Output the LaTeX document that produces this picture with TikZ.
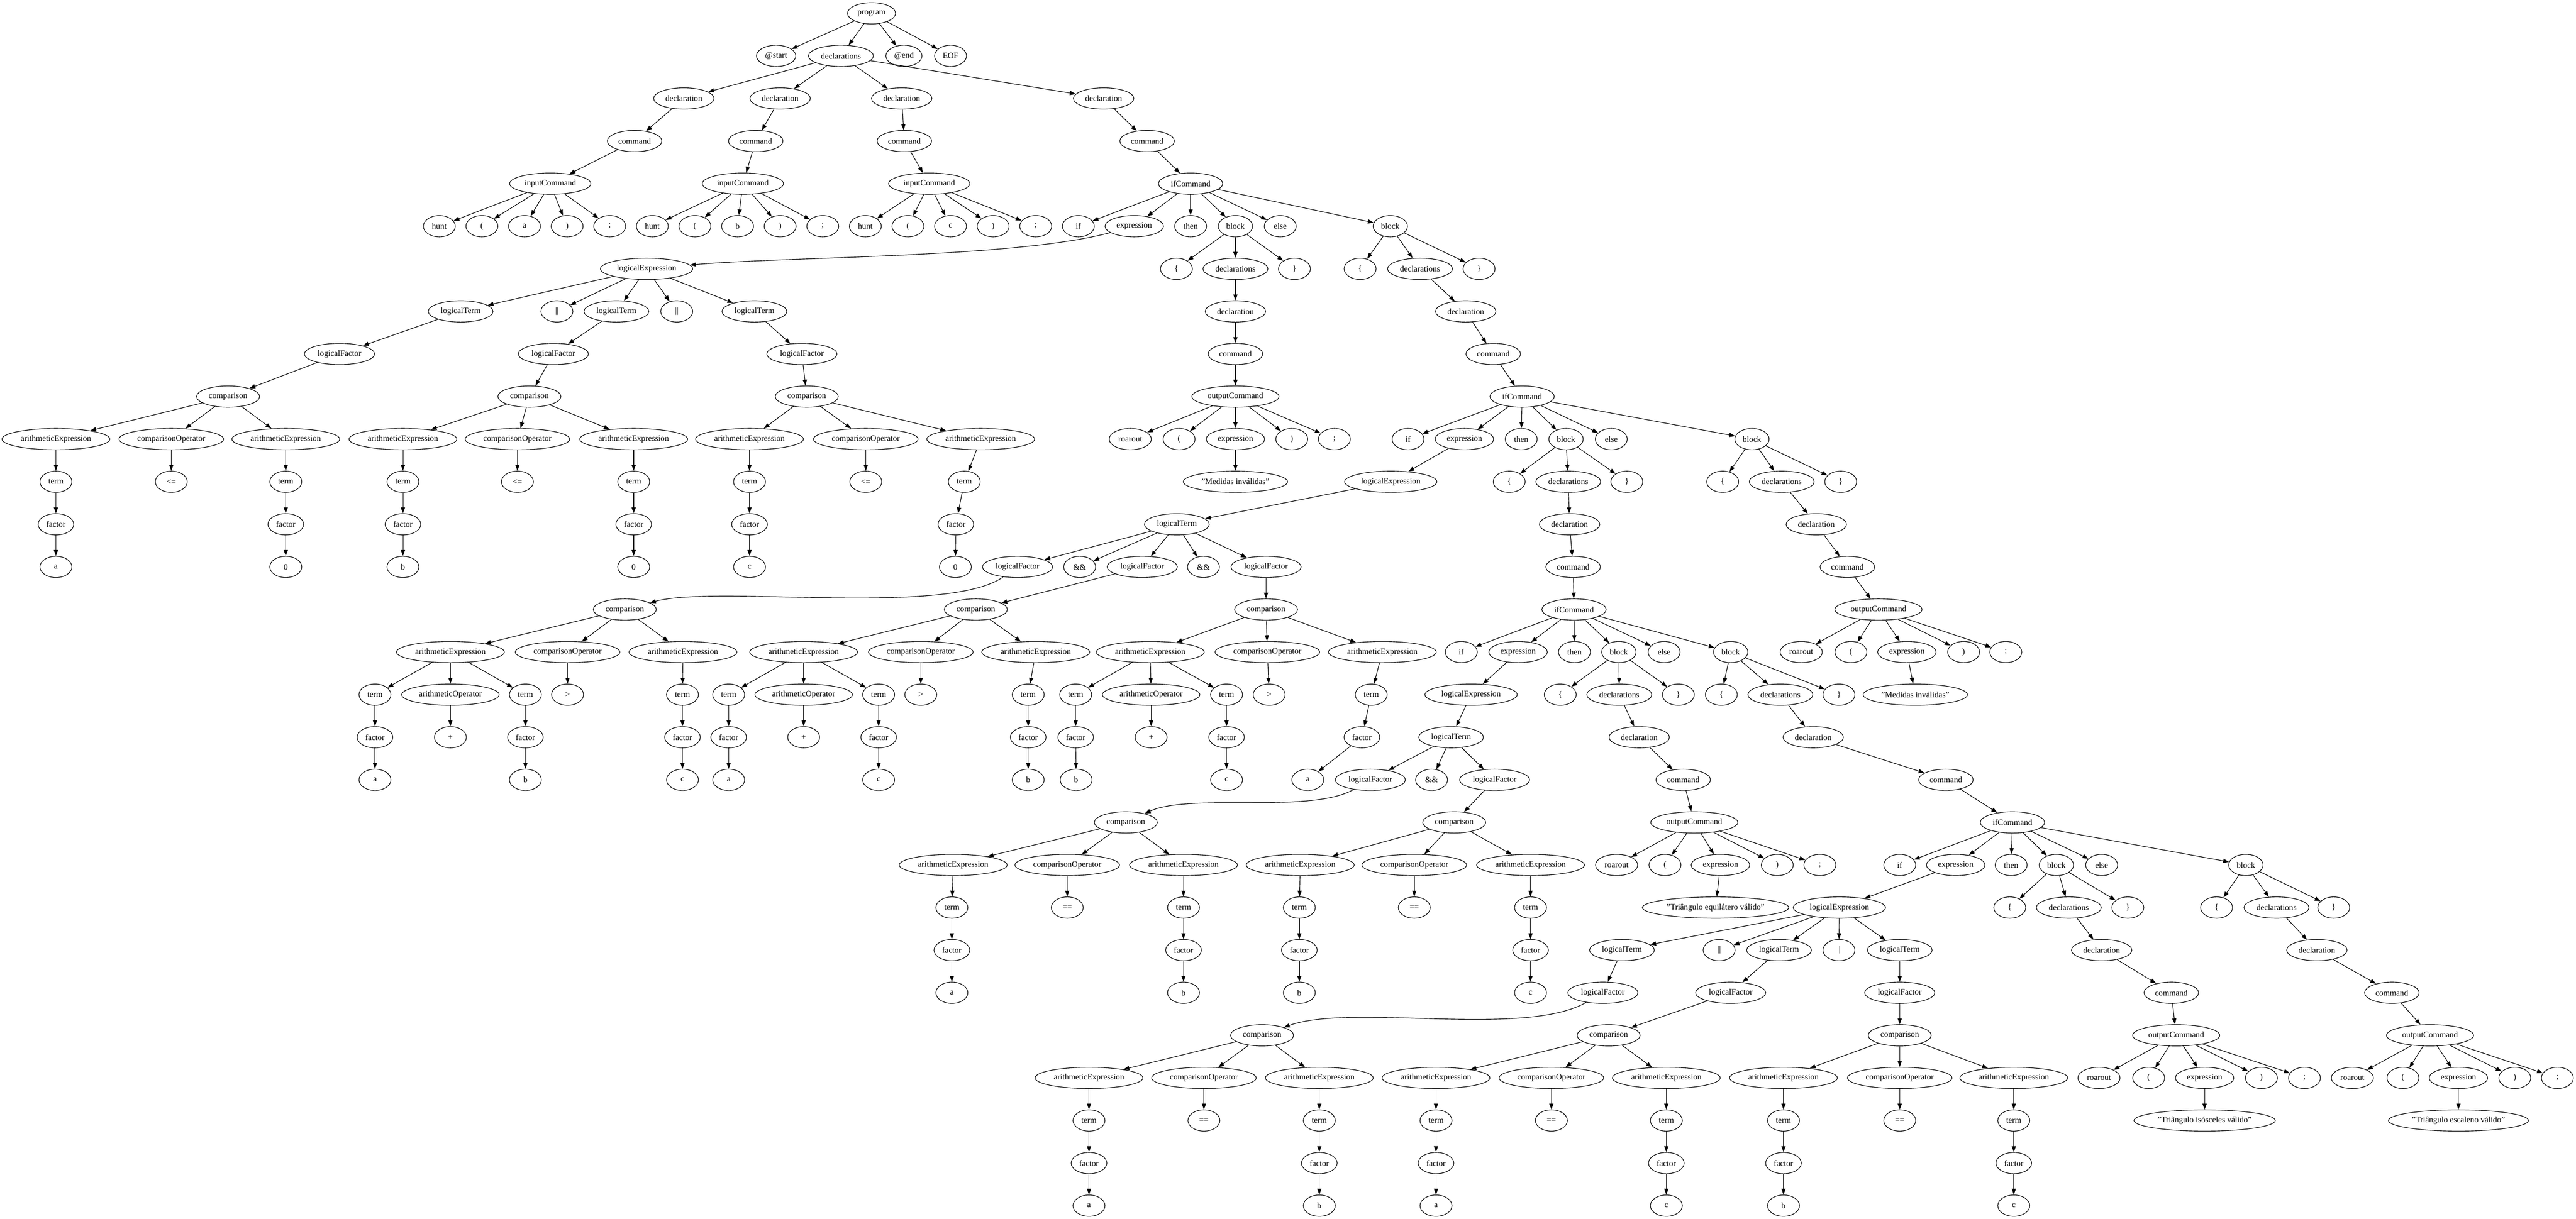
\documentclass[tikz,border=0pt]{standalone}
\usepackage{fontspec}
\setmainfont{Liberation Serif}
\usetikzlibrary{shapes.geometric,arrows.meta}

\begin{document}
\begin{tikzpicture}
  [x=0.75pt,y=-72pt,
   every node/.style={ellipse,draw,line width=1pt,inner xsep=5pt,inner ysep=4pt,
     minimum width=54pt,minimum height=36pt,font=\fontsize{14pt}{16.8pt}\selectfont},
   conn/.style={-{Triangle[length=10pt,width=7pt]},line width=1pt}]
  \useasboundingbox (0,-0.3125) rectangle (5805,28.302);

  % program and its declarations
  \node (prog)    at (1964,0) {program};
  \node (atstart) at (1749,1) {@start};
  \node (decls)   at (1895,1) {declarations};
  \node (atend)   at (2037,1) {@end};
  \node (eof)     at (2142,1) {EOF};
  \node (d1) at (1541,2) {declaration};
  \node (d2) at (1758,2) {declaration};
  \node (d3) at (2032,2) {declaration};
  \node (d4) at (2487,2) {declaration};
  \node (c1) at (1430,3) {command};
  \node (c2) at (1703,3) {command};
  \node (c3) at (2038,3) {command};
  \node (c4) at (2585,3) {command};
  \node (in1) at (1240,4) {inputCommand};
  \node (in2) at (1674,4) {inputCommand};
  \node (in3) at (2094,4) {inputCommand};
  \node (if1) at (2683,4) {ifCommand};

  \node (i1k) at (990,5)  {hunt};
  \node (i1l) at (1086,5) {(};
  \node (i1v) at (1182,5) {a};
  \node (i1r) at (1278,5) {)};
  \node (i1s) at (1374,5) {;};
  \node (i2k) at (1470,5) {hunt};
  \node (i2l) at (1566,5) {(};
  \node (i2v) at (1662,5) {b};
  \node (i2r) at (1758,5) {)};
  \node (i2s) at (1854,5) {;};
  \node (i3k) at (1950,5) {hunt};
  \node (i3l) at (2046,5) {(};
  \node (i3v) at (2142,5) {c};
  \node (i3r) at (2238,5) {)};
  \node (i3s) at (2334,5) {;};
  \node (kif1) at (2430,5) {if};
  \node (ex1)  at (2556,5) {expression};
  \node (kth1) at (2683,5) {then};
  \node (bl1)  at (2784,5) {block};
  \node (kel1) at (2885,5) {else};
  \node (bl2)  at (3133,5) {block};

  % first condition
  \node (le1) at (1457,6) {logicalExpression};
  \node (b1l) at (2651,6) {\{};
  \node (ds1) at (2784,6) {declarations};
  \node (b1r) at (2917,6) {\}};
  \node (b2l) at (3065,6) {\{};
  \node (ds2) at (3200,6) {declarations};
  \node (b2r) at (3333,6) {\}};
  \node (lt1) at (1038,7) {logicalTerm};
  \node (or1) at (1255,7) {||};
  \node (lt2) at (1389,7) {logicalTerm};
  \node (or2) at (1525,7) {||};
  \node (lt3) at (1700,7) {logicalTerm};
  \node (dc1) at (2784,7) {declaration};
  \node (dc2) at (3303,7) {declaration};
  \node (lf1) at (765,8)  {logicalFactor};
  \node (lf2) at (1247,8) {logicalFactor};
  \node (lf3) at (1807,8) {logicalFactor};
  \node (cm1) at (2784,8) {command};
  \node (cm2) at (3365,8) {command};
  \node (cp1) at (514,9)  {comparison};
  \node (cp2) at (1193,9) {comparison};
  \node (cp3) at (1818,9) {comparison};
  \node (oc1) at (2784,9) {outputCommand};
  \node (if2) at (3430,9) {ifCommand};

  \node (ae1) at (126,10)  {arithmeticExpression};
  \node (co1) at (386,10)  {comparisonOperator};
  \node (ae2) at (644,10)  {arithmeticExpression};
  \node (ae3) at (908,10)  {arithmeticExpression};
  \node (co2) at (1166,10) {comparisonOperator};
  \node (ae4) at (1428,10) {arithmeticExpression};
  \node (ae5) at (1689,10) {arithmeticExpression};
  \node (co3) at (1951,10) {comparisonOperator};
  \node (ae6) at (2210,10) {arithmeticExpression};
  \node (o1k) at (2547,10) {roarout};
  \node (o1l) at (2657,10) {(};
  \node (o1e) at (2784,10) {expression};
  \node (o1r) at (2911,10) {)};
  \node (o1s) at (3007,10) {;};
  \node (kif2) at (3173,10) {if};
  \node (ex2)  at (3300,10) {expression};
  \node (kth2) at (3428,10) {then};
  \node (bl3)  at (3529,10) {block};
  \node (kel2) at (3631,10) {else};
  \node (bl4)  at (3948,10) {block};

  \node (tm1) at (126,11)  {term};
  \node (op1) at (386,11)  {<=};
  \node (tm2) at (644,11)  {term};
  \node (tm3) at (908,11)  {term};
  \node (op2) at (1166,11) {<=};
  \node (tm4) at (1428,11) {term};
  \node (tm5) at (1689,11) {term};
  \node (op3) at (1951,11) {<=};
  \node (tm6) at (2173,11) {term};
  \node (s1)  at (2784,11) {"Medidas inválidas"};
  \node (le2) at (3134,11) {logicalExpression};
  \node (b3l) at (3401,11) {\{};
  \node (ds3) at (3534,11) {declarations};
  \node (b3r) at (3666,11) {\}};
  \node (b4l) at (3882,11) {\{};
  \node (ds4) at (4015,11) {declarations};
  \node (b4r) at (4148,11) {\}};

  \node (fa1) at (126,12)  {factor};
  \node (fa2) at (644,12)  {factor};
  \node (fa3) at (908,12)  {factor};
  \node (fa4) at (1428,12) {factor};
  \node (fa5) at (1689,12) {factor};
  \node (fa6) at (2154,12) {factor};
  \node (lt4) at (2652,12) {logicalTerm};
  \node (dc3) at (3537,12) {declaration};
  \node (dc4) at (4093,12) {declaration};

  \node (va1) at (126,13)  {a};
  \node (va2) at (644,13)  {0};
  \node (va3) at (908,13)  {b};
  \node (va4) at (1428,13) {0};
  \node (va5) at (1689,13) {c};
  \node (va6) at (2153,13) {0};
  \node (lf4) at (2293,13) {logicalFactor};
  \node (an1) at (2433,13) {\&\&};
  \node (lf5) at (2574,13) {logicalFactor};
  \node (an2) at (2712,13) {\&\&};
  \node (lf6) at (2853,13) {logicalFactor};
  \node (cm3) at (3545,13) {command};
  \node (cm4) at (4163,13) {command};

  % triangle inequality
  \node (cp4) at (1408,14) {comparison};
  \node (cp5) at (2199,14) {comparison};
  \node (cp6) at (2853,14) {comparison};
  \node (if3) at (3547,14) {ifCommand};
  \node (oc2) at (4233,14) {outputCommand};

  \node (ae7)  at (1015,15) {arithmeticExpression};
  \node (co4)  at (1279,15) {comparisonOperator};
  \node (ae8)  at (1539,15) {arithmeticExpression};
  \node (ae9)  at (1811,15) {arithmeticExpression};
  \node (co5)  at (2075,15) {comparisonOperator};
  \node (ae10) at (2334,15) {arithmeticExpression};
  \node (ae11) at (2592,15) {arithmeticExpression};
  \node (co6)  at (2856,15) {comparisonOperator};
  \node (ae12) at (3115,15) {arithmeticExpression};
  \node (kif3) at (3293,15) {if};
  \node (ex3)  at (3421,15) {expression};
  \node (kth3) at (3548,15) {then};
  \node (bl5)  at (3648,15) {block};
  \node (kel3) at (3750,15) {else};
  \node (bl6)  at (3900,15) {block};
  \node (o2k) at (4059,15) {roarout};
  \node (o2l) at (4171,15) {(};
  \node (o2e) at (4297,15) {expression};
  \node (o2r) at (4425,15) {)};
  \node (o2s) at (4520,15) {;};

  \node (tm7)  at (845,16)  {term};
  \node (ao1)  at (1015,16) {arithmeticOperator};
  \node (tm8)  at (1184,16) {term};
  \node (op4)  at (1279,16) {>};
  \node (tm9)  at (1538,16) {term};
  \node (tm10) at (1642,16) {term};
  \node (ao2)  at (1811,16) {arithmeticOperator};
  \node (tm11) at (1980,16) {term};
  \node (op5)  at (2075,16) {>};
  \node (tm12) at (2317,16) {term};
  \node (tm13) at (2424,16) {term};
  \node (ao3)  at (2594,16) {arithmeticOperator};
  \node (tm14) at (2764,16) {term};
  \node (op6)  at (2860,16) {>};
  \node (tm15) at (3090,16) {term};
  \node (le3)  at (3315,16) {logicalExpression};
  \node (b5l)  at (3516,16) {\{};
  \node (ds5)  at (3649,16) {declarations};
  \node (b5r)  at (3782,16) {\}};
  \node (b6l)  at (3879,16) {\{};
  \node (ds6)  at (4012,16) {declarations};
  \node (b6r)  at (4144,16) {\}};
  \node (s2)   at (4316,16) {"Medidas inválidas"};

  \node (fa7)  at (845,17)  {factor};
  \node (pl1)  at (1015,17) {+};
  \node (fa8)  at (1184,17) {factor};
  \node (fa9)  at (1538,17) {factor};
  \node (fa10) at (1642,17) {factor};
  \node (pl2)  at (1811,17) {+};
  \node (fa11) at (1980,17) {factor};
  \node (fa12) at (2317,17) {factor};
  \node (fa13) at (2424,17) {factor};
  \node (pl3)  at (2594,17) {+};
  \node (fa14) at (2764,17) {factor};
  \node (fa15) at (3069,17) {factor};
  \node (lt5)  at (3270,17) {logicalTerm};
  \node (dc5)  at (3694,17) {declaration};
  \node (dc6)  at (4086,17) {declaration};

  \node (va7)  at (845,18)  {a};
  \node (va8)  at (1184,18) {b};
  \node (va9)  at (1538,18) {c};
  \node (va10) at (1642,18) {a};
  \node (va11) at (1980,18) {c};
  \node (va12) at (2317,18) {b};
  \node (va13) at (2425,18) {b};
  \node (va14) at (2764,18) {c};
  \node (va15) at (2947,18) {a};
  \node (lf7)  at (3088,18) {logicalFactor};
  \node (an3)  at (3226,18) {\&\&};
  \node (lf8)  at (3368,18) {logicalFactor};
  \node (cm5)  at (3793,18) {command};
  \node (cm6)  at (4385,18) {command};

  % equilateral test
  \node (cp7) at (2537,19) {comparison};
  \node (cp8) at (3277,19) {comparison};
  \node (oc3) at (3818,19) {outputCommand};
  \node (if4) at (4535,19) {ifCommand};

  \node (ae13) at (2148,20) {arithmeticExpression};
  \node (co7)  at (2405,20) {comparisonOperator};
  \node (ae14) at (2667,20) {arithmeticExpression};
  \node (ae15) at (2930,20) {arithmeticExpression};
  \node (co8)  at (3187,20) {comparisonOperator};
  \node (ae16) at (3449,20) {arithmeticExpression};
  \node (o3k) at (3643,20) {roarout};
  \node (o3l) at (3752,20) {(};
  \node (o3e) at (3877,20) {expression};
  \node (o3r) at (4005,20) {)};
  \node (o3s) at (4101,20) {;};
  \node (kif4) at (4281,20) {if};
  \node (ex4)  at (4407,20) {expression};
  \node (kth4) at (4532,20) {then};
  \node (bl7)  at (4634,20) {block};
  \node (kel4) at (4736,20) {else};
  \node (bl8)  at (5061,20) {block};

  \node (tm16) at (2145,21) {term};
  \node (op7)  at (2405,21) {==};
  \node (tm17) at (2667,21) {term};
  \node (tm18) at (2928,21) {term};
  \node (op8)  at (3187,21) {==};
  \node (tm19) at (3449,21) {term};
  \node (s3)   at (3866,21) {"Triângulo equilátero válido"};
  \node (le4)  at (4145,21) {logicalExpression};
  \node (b7l)  at (4529,21) {\{};
  \node (ds7)  at (4662,21) {declarations};
  \node (b7r)  at (4795,21) {\}};
  \node (b8l)  at (4995,21) {\{};
  \node (ds8)  at (5130,21) {declarations};
  \node (b8r)  at (5259,21) {\}};

  \node (fa16) at (2145,22) {factor};
  \node (fa17) at (2667,22) {factor};
  \node (fa18) at (2928,22) {factor};
  \node (fa19) at (3449,22) {factor};
  \node (lt6)  at (3655,22) {logicalTerm};
  \node (or3)  at (3874,22) {||};
  \node (lt7)  at (4009,22) {logicalTerm};
  \node (or4)  at (4144,22) {||};
  \node (lt8)  at (4281,22) {logicalTerm};
  \node (dc7)  at (4736,22) {declaration};
  \node (dc8)  at (5221,22) {declaration};

  \node (va16) at (2145,23) {a};
  \node (va17) at (2667,23) {b};
  \node (va18) at (2928,23) {b};
  \node (va19) at (3449,23) {c};
  \node (lf9)  at (3612,23) {logicalFactor};
  \node (lf10) at (3900,23) {logicalFactor};
  \node (lf11) at (4281,23) {logicalFactor};
  \node (cm7)  at (4893,23) {command};
  \node (cm8)  at (5390,23) {command};

  % isosceles test
  \node (cp9)  at (2844,24) {comparison};
  \node (cp10) at (3625,24) {comparison};
  \node (cp11) at (4281,24) {comparison};
  \node (oc4)  at (4904,24) {outputCommand};
  \node (oc5)  at (5476,24) {outputCommand};

  \node (ae17) at (2454,25) {arithmeticExpression};
  \node (co9)  at (2713,25) {comparisonOperator};
  \node (ae18) at (2973,25) {arithmeticExpression};
  \node (ae19) at (3236,25) {arithmeticExpression};
  \node (co10) at (3496,25) {comparisonOperator};
  \node (ae20) at (3755,25) {arithmeticExpression};
  \node (ae21) at (4019,25) {arithmeticExpression};
  \node (co11) at (4281,25) {comparisonOperator};
  \node (ae22) at (4538,25) {arithmeticExpression};
  \node (o4k) at (4730,25) {roarout};
  \node (o4l) at (4842,25) {(};
  \node (o4e) at (4968,25) {expression};
  \node (o4r) at (5096,25) {)};
  \node (o4s) at (5193,25) {;};
  \node (o5k) at (5301,25) {roarout};
  \node (o5l) at (5415,25) {(};
  \node (o5e) at (5540,25) {expression};
  \node (o5r) at (5667,25) {)};
  \node (o5s) at (5763,25) {;};

  \node (tm20) at (2454,26) {term};
  \node (op9)  at (2713,26) {==};
  \node (tm21) at (2973,26) {term};
  \node (tm22) at (3236,26) {term};
  \node (op10) at (3496,26) {==};
  \node (tm23) at (3755,26) {term};
  \node (tm24) at (4019,26) {term};
  \node (op11) at (4281,26) {==};
  \node (tm25) at (4538,26) {term};
  \node (s4)   at (4968,26) {"Triângulo isósceles válido"};
  \node (s5)   at (5540,26) {"Triângulo escaleno válido"};

  \node (fa20) at (2454,27) {factor};
  \node (fa21) at (2973,27) {factor};
  \node (fa22) at (3236,27) {factor};
  \node (fa23) at (3755,27) {factor};
  \node (fa24) at (4019,27) {factor};
  \node (fa25) at (4538,27) {factor};

  \node (va20) at (2454,28) {a};
  \node (va21) at (2973,28) {b};
  \node (va22) at (3236,28) {a};
  \node (va23) at (3755,28) {c};
  \node (va24) at (4019,28) {b};
  \node (va25) at (4538,28) {c};

  % edges
  \foreach \from/\to in {prog/atstart,prog/decls,prog/atend,prog/eof,
      decls/d1,decls/d2,decls/d3,decls/d4,d1/c1,d2/c2,d3/c3,d4/c4,
      c1/in1,c2/in2,c3/in3,c4/if1}
    \draw[conn] (\from) -- (\to);

  \foreach \i in {1,2,3}
    \foreach \tk in {k,l,v,r,s}
      \draw[conn] (in\i) -- (i\i\tk);

  \foreach \i/\a/\b in {1/1/2,2/3/4,3/5/6,4/7/8} {
    \foreach \kw in {kif,ex,kth,kel}
      \draw[conn] (if\i) -- (\kw\i);
    \draw[conn] (if\i) -- (bl\a);
    \draw[conn] (if\i) -- (bl\b);
  }

  \foreach \i in {1,...,8} {
    \draw[conn] (bl\i) -- (b\i l);
    \draw[conn] (bl\i) -- (ds\i);
    \draw[conn] (bl\i) -- (b\i r);
    \draw[conn] (ds\i) -- (dc\i);
    \draw[conn] (dc\i) -- (cm\i);
  }

  \foreach \from/\to in {cm1/oc1,cm2/if2,cm3/if3,cm4/oc2,cm5/oc3,cm6/if4,cm7/oc4,cm8/oc5}
    \draw[conn] (\from) -- (\to);

  \foreach \i in {1,...,5} {
    \foreach \tk in {k,l,e,r,s}
      \draw[conn] (oc\i) -- (o\i\tk);
    \draw[conn] (o\i e) -- (s\i);
  }

  \foreach \from/\to in {ex2/le2,ex3/le3,ex4/le4,
      le1/lt1,le1/or1,le1/lt2,le1/or2,le1/lt3,lt1/lf1,lt2/lf2,lt3/lf3,
      lf1/cp1,lf2/cp2,lf3/cp3,
      le2/lt4,lt4/lf4,lt4/an1,lt4/lf5,lt4/an2,lt4/lf6,lf5/cp5,lf6/cp6,
      le3/lt5,lt5/lf7,lt5/an3,lt5/lf8,lf8/cp8,
      le4/lt6,le4/or3,le4/lt7,le4/or4,le4/lt8,lt6/lf9,lt7/lf10,lt8/lf11,
      lf10/cp10,lf11/cp11}
    \draw[conn] (\from) -- (\to);

  \draw[conn] (ex1) to[out=195,in=5,looseness=0.6] (le1);
  \draw[conn] (lf4) to[out=215,in=15,looseness=0.5] (cp4);
  \draw[conn] (lf7) to[out=210,in=25,looseness=0.6] (cp7);
  \draw[conn] (lf9) to[out=210,in=20,looseness=0.6] (cp9);

  \foreach \i/\l/\r in {1/1/2,2/3/4,3/5/6,4/7/8,5/9/10,6/11/12,7/13/14,
      8/15/16,9/17/18,10/19/20,11/21/22} {
    \draw[conn] (cp\i) -- (ae\l);
    \draw[conn] (cp\i) -- (co\i);
    \draw[conn] (cp\i) -- (ae\r);
    \draw[conn] (co\i) -- (op\i);
  }

  \foreach \from/\to in {ae1/tm1,ae2/tm2,ae3/tm3,ae4/tm4,ae5/tm5,ae6/tm6,
      ae7/tm7,ae7/ao1,ae7/tm8,ae8/tm9,ae9/tm10,ae9/ao2,ae9/tm11,ae10/tm12,
      ae11/tm13,ae11/ao3,ae11/tm14,ae12/tm15,ae13/tm16,ae14/tm17,ae15/tm18,
      ae16/tm19,ae17/tm20,ae18/tm21,ae19/tm22,ae20/tm23,ae21/tm24,ae22/tm25,
      ao1/pl1,ao2/pl2,ao3/pl3}
    \draw[conn] (\from) -- (\to);

  \foreach \i in {1,...,25} {
    \draw[conn] (tm\i) -- (fa\i);
    \draw[conn] (fa\i) -- (va\i);
  }

\end{tikzpicture}
\end{document}
